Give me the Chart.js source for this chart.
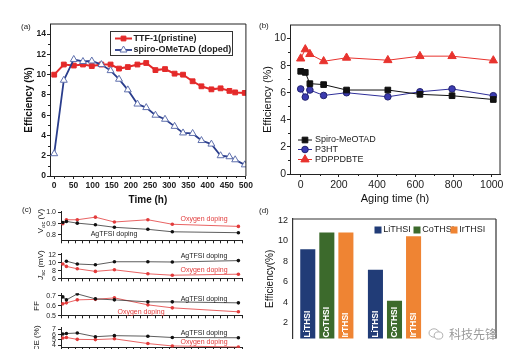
<!DOCTYPE html>
<html>
<head>
<meta charset="utf-8">
<script src="https://cdn.jsdelivr.net/npm/chart.js@4.4.1/dist/chart.umd.min.js"></script>
<style>
body { margin: 0; background: #fff; font-family: "Liberation Sans", Arial, sans-serif; }
#hoja { position: relative; width: 516px; height: 361px; overflow: hidden; background: #fff; }
#recorte { position: absolute; left: 0; top: 0; width: 516px; height: 349px; overflow: hidden; }
canvas { position: absolute; }
.letra { position: absolute; font-size: 8px; color: #222; }
.tit { position: absolute; font-size: 8px; color: #111; white-space: nowrap; transform: translate(-50%, -50%) rotate(-90deg); }
.tit sub { font-size: 6px; }
#marca { position: absolute; left: 449px; top: 325px; font-family: "Noto Sans CJK SC", sans-serif; font-size: 12px; color: #9a9a9a; }
#icono { position: absolute; left: 428px; top: 327px; }
</style>
</head>
<body>
<div id="hoja">
<div id="recorte">
  <canvas id="chartA" width="255" height="206" style="left:0;top:0"></canvas>
  <canvas id="chartB" width="261" height="206" style="left:255px;top:0"></canvas>
  <canvas id="chartVoc" width="250" height="42" style="left:0;top:205px"></canvas>
  <canvas id="chartJsc" width="250" height="38" style="left:0;top:247px"></canvas>
  <canvas id="chartFF" width="250" height="35" style="left:0;top:287px"></canvas>
  <canvas id="chartPCE" width="250" height="33" style="left:0;top:321px"></canvas>
  <canvas id="chartD" width="261" height="144" style="left:255px;top:205px"></canvas>

  <div class="letra" style="left:21px;top:22px">(a)</div>
  <div class="letra" style="left:259px;top:21px">(b)</div>
  <div class="letra" style="left:22px;top:205px">(c)</div>
  <div class="letra" style="left:259px;top:206px">(d)</div>

  <div class="tit" style="left:41px;top:221px">V<sub>oc</sub> (V)</div>
  <div class="tit" style="left:41px;top:265px"><i>J</i><sub>sc</sub> (mV)</div>
  <div class="tit" style="left:36px;top:306px">FF</div>
  <div class="tit" style="left:36px;top:341px">PCE (%)</div>

  <svg id="icono" width="16" height="14" viewBox="0 0 16 14">
    <ellipse cx="6" cy="6" rx="5" ry="4.2" fill="none" stroke="#b0b0b0" stroke-width="1"/>
    <ellipse cx="10.5" cy="8.5" rx="4.3" ry="3.6" fill="#fff" stroke="#b0b0b0" stroke-width="1"/>
  </svg>
  <div id="marca">科技先锋</div>
</div>
</div>

<script>
// ---------- Datos panel (a) ----------
var horasA = [0, 25, 51, 75, 98, 123, 147, 169, 192, 217, 240, 264, 289, 314, 336, 361, 384, 410, 434, 457, 472, 497];
var ttf1 = [10.0, 11.0, 10.9, 11.0, 10.85, 11.0, 11.0, 10.6, 10.75, 11.0, 11.15, 10.45, 10.55, 10.1, 10.0, 9.35, 8.85, 8.55, 8.65, 8.4, 8.25, 8.2];
var spiroA = [2.2, 9.45, 11.5, 11.3, 11.35, 11.0, 10.4, 9.55, 8.5, 7.1, 6.75, 6.0, 5.6, 4.9, 4.25, 4.2, 3.5, 3.15, 2.0, 1.9, 1.6, 1.1];
var marcasXA = [0, 50, 100, 150, 200, 250, 300, 350, 400, 450, 500];
var marcasYA = [0, 2, 4, 6, 8, 10, 12, 14];

// ---------- Datos panel (b) ----------
var horasB = [0, 24, 48, 120, 240, 456, 624, 792, 1008];
var spiroB = [7.58, 7.5, 6.67, 6.6, 6.2, 6.2, 5.88, 5.78, 5.5];
var p3ht = [6.28, 5.68, 6.2, 5.8, 6.0, 5.7, 6.07, 6.28, 5.78];
var pdppdbte = [8.52, 9.2, 8.85, 8.32, 8.58, 8.4, 8.7, 8.7, 8.38];
var marcasXB = [0, 200, 400, 600, 800, 1000];
var marcasYB = [0, 2, 4, 6, 8, 10];

// ---------- Datos panel (c) ----------
var tiempoC = [10, 30, 90, 190, 295, 480, 615, 980];
var vocAg = [0.91, 0.92, 0.905, 0.89, 0.868, 0.85, 0.828, 0.82];
var vocOx = [0.90, 0.935, 0.935, 0.958, 0.915, 0.935, 0.895, 0.876];
var jscAg = [null, 10.4, 9.7, 9.5, 10.26, 10.26, 10.2, 10.55];
var jscOx = [9.7, 9.1, 8.5, 7.85, 8.25, 7.25, 6.9, 7.15];
var ffAg = [0.69, 0.66, 0.72, 0.67, 0.66, 0.64, 0.64, 0.63];
var ffOx = [0.62, 0.63, 0.66, 0.665, 0.68, 0.61, 0.58, 0.54];
var pceAg = [6.1, 6.2, 6.3, 5.6, 5.8, 5.7, 5.45, 5.4];
var pceOx = [5.35, 5.45, 5.1, 5.05, 5.2, 4.3, 3.85, 3.65];
var marcasXC = [0, 40, 80, 120, 160, 200, 240, 280, 320, 360, 400, 440, 480, 520, 560, 600, 640, 680, 720, 760, 800, 840, 880, 920, 960, 1000];
var marcasVoc = [0.8, 0.9, 1.0];
var marcasJsc = [6, 8, 10, 12];
var marcasFF = [0.5, 0.6, 0.7];
var marcasPCE = [4, 5, 6, 7];

// ---------- Datos panel (d) ----------
var gruposD = ['Grupo 1', 'Grupo 2', 'Grupo 3'];
var lithsi = [9.16, 7.16, null];
var cothsi = [10.78, 4.15, null];
var irthsi = [10.78, 10.42, null];
var marcasYD = [2, 4, 6, 8, 10, 12];

Chart.defaults.font.family = '"Liberation Sans", Arial, sans-serif';
Chart.defaults.color = '#222';

var FAM = '"Liberation Sans", Arial, sans-serif';

function puntos(xs, ys) {
    return xs.map(function (x, i) { return { x: x, y: ys[i] }; });
}

// Eje lineal con marcas fijas y tamaño fijo
function eje(o) {
    return {
        type: 'linear',
        display: true,
        min: o.min,
        max: o.max,
        afterBuildTicks: function (s) {
            s.ticks = o.marcas.map(function (v) { return { value: v }; });
        },
        afterFit: function (s) {
            if (o.ancho != null) s.width = o.ancho;
            if (o.alto != null) s.height = o.alto;
        },
        grid: { display: o.sinMarcas ? false : true, drawOnChartArea: false, drawTicks: !o.sinMarcas, tickLength: o.tick == null ? 3 : o.tick, color: '#222', lineWidth: 1 },
        border: { display: true, color: '#222', width: 1 },
        ticks: {
            display: o.etiquetas !== false,
            font: o.fuente,
            color: '#222',
            padding: o.pad == null ? 2 : o.pad,
            autoSkip: false,
            maxRotation: 0,
            callback: o.formato || function (v) { return v; }
        },
        title: o.titulo ? { display: true, text: o.titulo, font: o.fuenteTitulo, color: '#111', padding: 0 } : { display: false }
    };
}

// Marco del área y marcas menores
var marco = {
    id: 'marco',
    afterDraw: function (chart, args, o) {
        var a = chart.chartArea, ctx = chart.ctx;
        var lados = o.lados || '';
        ctx.save();
        ctx.strokeStyle = o.color || '#222';
        ctx.lineWidth = o.grosor || 1;
        ctx.beginPath();
        if (lados.indexOf('t') >= 0) { ctx.moveTo(a.left, a.top); ctx.lineTo(a.right, a.top); }
        if (lados.indexOf('r') >= 0) { ctx.moveTo(a.right, a.top); ctx.lineTo(a.right, a.bottom); }
        ctx.stroke();
        if (o.menores) {
            ctx.lineWidth = 1;
            ctx.beginPath();
            var tx = chart.scales.x.ticks, ty = chart.scales.y.ticks;
            for (var i = 0; i < tx.length - 1; i++) {
                var px = Math.round(chart.scales.x.getPixelForValue((tx[i].value + tx[i + 1].value) / 2)) + 0.5;
                ctx.moveTo(px, a.bottom); ctx.lineTo(px, a.bottom + 2);
            }
            for (var j = 0; j < ty.length - 1; j++) {
                var py = Math.round(chart.scales.y.getPixelForValue((ty[j].value + ty[j + 1].value) / 2)) + 0.5;
                ctx.moveTo(a.left, py); ctx.lineTo(a.left - 2, py);
            }
            ctx.stroke();
        }
        ctx.restore();
    }
};

// Leyenda dibujada a mano (línea + marcador o cuadro)
var leyenda = {
    id: 'leyenda',
    afterDraw: function (chart, args, o) {
        if (!o.pos) return;
        var ctx = chart.ctx;
        ctx.save();
        if (o.marco) {
            ctx.strokeStyle = '#333';
            ctx.lineWidth = 1;
            ctx.strokeRect(o.marco[0] + 0.5, o.marco[1] + 0.5, o.marco[2], o.marco[3]);
        }
        ctx.font = o.fuente;
        ctx.textBaseline = 'middle';
        ctx.textAlign = 'left';
        chart.data.datasets.forEach(function (ds, i) {
            var x = o.pos[i][0], y = o.pos[i][1];
            if (o.cuadro) {
                ctx.fillStyle = ds.backgroundColor;
                ctx.fillRect(x - o.cuadro / 2, y - o.cuadro / 2, o.cuadro, o.cuadro);
            } else {
                ctx.strokeStyle = ds.borderColor;
                ctx.lineWidth = ds.borderWidth;
                ctx.beginPath();
                ctx.moveTo(x, y);
                ctx.lineTo(x + o.largo, y);
                ctx.stroke();
                ctx.fillStyle = ds.pointBackgroundColor;
                ctx.strokeStyle = ds.pointBorderColor;
                ctx.lineWidth = ds.pointBorderWidth;
                Chart.helpers.drawPoint(ctx, { pointStyle: ds.pointStyle, radius: ds.pointRadius, rotation: 0, borderWidth: ds.pointBorderWidth }, x + o.largo / 2, y);
            }
            ctx.fillStyle = o.colorTexto || '#222';
            ctx.fillText(ds.label, x + o.sep, y);
        });
        ctx.restore();
    }
};

// Notas de texto en coordenadas de datos (panel c)
var notas = {
    id: 'notas',
    afterDraw: function (chart, args, o) {
        if (!o.items) return;
        var ctx = chart.ctx;
        ctx.save();
        ctx.font = '7px ' + FAM;
        ctx.textAlign = 'center';
        ctx.textBaseline = 'middle';
        o.items.forEach(function (n) {
            ctx.fillStyle = n.color;
            ctx.fillText(n.texto, chart.scales.x.getPixelForValue(n.x), chart.scales.y.getPixelForValue(n.y));
        });
        ctx.restore();
    }
};

// Rótulos verticales dentro de las barras (panel d)
var rotulos = {
    id: 'rotulos',
    afterDatasetsDraw: function (chart) {
        var ctx = chart.ctx;
        ctx.save();
        ctx.font = 'bold 8.5px ' + FAM;
        ctx.fillStyle = '#fff';
        ctx.textAlign = 'left';
        ctx.textBaseline = 'middle';
        chart.data.datasets.forEach(function (ds, i) {
            chart.getDatasetMeta(i).data.forEach(function (bar, j) {
                if (ds.data[j] == null) return;
                ctx.save();
                ctx.translate(bar.x, chart.chartArea.bottom - 1);
                ctx.rotate(-Math.PI / 2);
                ctx.fillText(ds.label, 0, 0);
                ctx.restore();
            });
        });
        ctx.restore();
    }
};

// ---------- Panel (a) ----------
function graficoA() {
    var fTick = { family: FAM, size: 8.5, weight: 'bold' };
    var fTit = { family: FAM, size: 10, weight: 'bold' };
    new Chart(document.getElementById('chartA').getContext('2d'), {
        type: 'line',
        data: {
            datasets: [{
                label: 'TTF-1(pristine)',
                data: puntos(horasA, ttf1),
                borderColor: '#e42a2a',
                borderWidth: 2,
                pointStyle: 'rect',
                pointRadius: 3.4,
                pointBackgroundColor: '#e42a2a',
                pointBorderColor: '#e42a2a',
                pointBorderWidth: 1,
                order: 2
            }, {
                label: 'spiro-OMeTAD (doped)',
                data: puntos(horasA, spiroA),
                borderColor: '#2a3d8c',
                borderWidth: 1.8,
                pointStyle: 'triangle',
                pointRadius: 4,
                pointBackgroundColor: '#ffffff',
                pointBorderColor: '#5f70ad',
                pointBorderWidth: 1,
                order: 1
            }]
        },
        options: {
            responsive: false,
            animation: false,
            layout: { padding: { left: 23, top: 24, right: 8, bottom: 0 } },
            scales: {
                x: eje({ min: -11, max: 500, marcas: marcasXA, fuente: fTick, alto: 30, titulo: 'Time (h)', fuenteTitulo: fTit }),
                y: eje({ min: 0, max: 15, marcas: marcasYA, fuente: fTick, ancho: 27, pad: 1, titulo: 'Efficiency (%)', fuenteTitulo: fTit })
            },
            plugins: {
                legend: { display: false },
                tooltip: { enabled: false },
                marco: { lados: 'tr', menores: true },
                leyenda: { pos: [[115, 38.5], [115, 50]], largo: 17, sep: 18.5, fuente: 'bold 9px ' + FAM, marco: [110, 31, 122, 24] }
            }
        },
        plugins: [marco, leyenda]
    });
}

// ---------- Panel (b) ----------
function graficoB() {
    var fTick = { family: FAM, size: 10.5 };
    var fTit = { family: FAM, size: 11 };
    new Chart(document.getElementById('chartB').getContext('2d'), {
        type: 'line',
        data: {
            datasets: [{
                label: 'Spiro-MeOTAD',
                data: puntos(horasB, spiroB),
                borderColor: '#111111',
                borderWidth: 1,
                pointStyle: 'rect',
                pointRadius: 4,
                pointBackgroundColor: '#111111',
                pointBorderColor: '#111111',
                pointBorderWidth: 1
            }, {
                label: 'P3HT',
                data: puntos(horasB, p3ht),
                borderColor: '#2f2f9a',
                borderWidth: 1,
                pointStyle: 'circle',
                pointRadius: 3.3,
                pointBackgroundColor: '#3b3bb0',
                pointBorderColor: '#22226e',
                pointBorderWidth: 1
            }, {
                label: 'PDPPDBTE',
                data: puntos(horasB, pdppdbte),
                borderColor: '#e8332e',
                borderWidth: 1,
                pointStyle: 'triangle',
                pointRadius: 4.8,
                pointBackgroundColor: '#e8332e',
                pointBorderColor: '#e8332e',
                pointBorderWidth: 1
            }]
        },
        options: {
            responsive: false,
            animation: false,
            layout: { padding: { left: 6, top: 25, right: 16, bottom: 0 } },
            scales: {
                x: eje({ min: -56, max: 1043, marcas: marcasXB, fuente: fTick, alto: 32, titulo: 'Aging time (h)', fuenteTitulo: fTit }),
                y: eje({ min: 0, max: 11, marcas: marcasYB, fuente: fTick, ancho: 29, pad: 1, titulo: 'Efficiency (%)', fuenteTitulo: fTit })
            },
            plugins: {
                legend: { display: false },
                tooltip: { enabled: false },
                marco: { lados: 'tr', menores: true },
                leyenda: { pos: [[43, 140], [43, 149.5], [43, 159.5]], largo: 14, sep: 17, fuente: '9px ' + FAM }
            }
        },
        plugins: [marco, leyenda]
    });
}

// ---------- Panel (c): cuatro subgráficos ----------
function graficoC(id, padTop, min, max, marcas, ag, ox, formato, textos) {
    var fTick = { family: FAM, size: 7 };
    new Chart(document.getElementById(id).getContext('2d'), {
        type: 'line',
        data: {
            datasets: [{
                label: 'AgTFSI doping',
                data: puntos(tiempoC, ag),
                borderColor: '#333333',
                borderWidth: 0.8,
                pointRadius: 1.8,
                pointBackgroundColor: '#111111',
                pointBorderColor: '#111111',
                pointBorderWidth: 0
            }, {
                label: 'Oxygen doping',
                data: puntos(tiempoC, ox),
                borderColor: '#e23b3b',
                borderWidth: 0.8,
                pointRadius: 1.8,
                pointBackgroundColor: '#e23b3b',
                pointBorderColor: '#e23b3b',
                pointBorderWidth: 0
            }]
        },
        options: {
            responsive: false,
            animation: false,
            layout: { padding: { left: 0, top: padTop, right: 8, bottom: 0 } },
            scales: {
                x: eje({ min: 0, max: 1000, marcas: marcasXC, etiquetas: false, alto: 4, tick: 2.5 }),
                y: eje({ min: min, max: max, marcas: marcas, fuente: fTick, ancho: 61, pad: 2, formato: formato })
            },
            plugins: {
                legend: { display: false },
                tooltip: { enabled: false },
                notas: { items: textos }
            }
        },
        plugins: [notas]
    });
}

// ---------- Panel (d) ----------
function graficoD() {
    var fTick = { family: FAM, size: 9 };
    var fTit = { family: FAM, size: 10 };
    var y = eje({ min: 0.46, max: 12.1, marcas: marcasYD, fuente: fTick, ancho: 29, pad: 5, sinMarcas: true, titulo: 'Efficiency(%)', fuenteTitulo: fTit });
    y.border = { display: true, color: '#333', width: 1.2 };
    new Chart(document.getElementById('chartD').getContext('2d'), {
        type: 'bar',
        data: {
            labels: gruposD,
            datasets: [
                { label: 'LiTHSI', data: lithsi, backgroundColor: '#213c77' },
                { label: 'CoTHSI', data: cothsi, backgroundColor: '#3c6a2c' },
                { label: 'IrTHSI', data: irthsi, backgroundColor: '#ef8433' }
            ]
        },
        options: {
            responsive: false,
            animation: false,
            categoryPercentage: 0.845,
            barPercentage: 0.79,
            layout: { padding: { left: 9, top: 14, right: 20, bottom: 0 } },
            scales: {
                x: { type: 'category', display: false },
                y: y
            },
            plugins: {
                legend: { display: false },
                tooltip: { enabled: false },
                marco: { lados: 'tr', color: '#333', grosor: 1.2 },
                leyenda: { pos: [[123, 25], [162, 25], [199, 25]], cuadro: 7, sep: 5.3, fuente: '9px ' + FAM }
            }
        },
        plugins: [marco, leyenda, rotulos]
    });
}

var rojo = '#e23b3b', negro = '#222222';
var dec1 = function (v) { return v.toFixed(1); };

graficoA();
graficoB();
graficoC('chartVoc', 6, 0.748, 1.011, marcasVoc, vocAg, vocOx, dec1, [
    { texto: 'Oxygen doping', x: 790, y: 0.945, color: rojo },
    { texto: 'AgTFSI doping', x: 293, y: 0.806, color: negro }
]);
graficoC('chartJsc', 4.4, 6, 12.4, marcasJsc, jscAg, jscOx, null, [
    { texto: 'AgTFSI doping', x: 790, y: 11.7, color: negro },
    { texto: 'Oxygen doping', x: 790, y: 8.2, color: rojo }
]);
graficoC('chartFF', 6, 0.5, 0.727, marcasFF, ffAg, ffOx, dec1, [
    { texto: 'AgTFSI doping', x: 790, y: 0.665, color: negro },
    { texto: 'Oxygen doping', x: 442, y: 0.533, color: rojo }
]);
graficoC('chartPCE', 3, 3.5, 7.4, marcasPCE, pceAg, pceOx, null, [
    { texto: 'AgTFSI doping', x: 790, y: 6.32, color: negro },
    { texto: 'Oxygen doping', x: 790, y: 4.5, color: rojo }
]);
graficoD();
</script>
</body>
</html>
